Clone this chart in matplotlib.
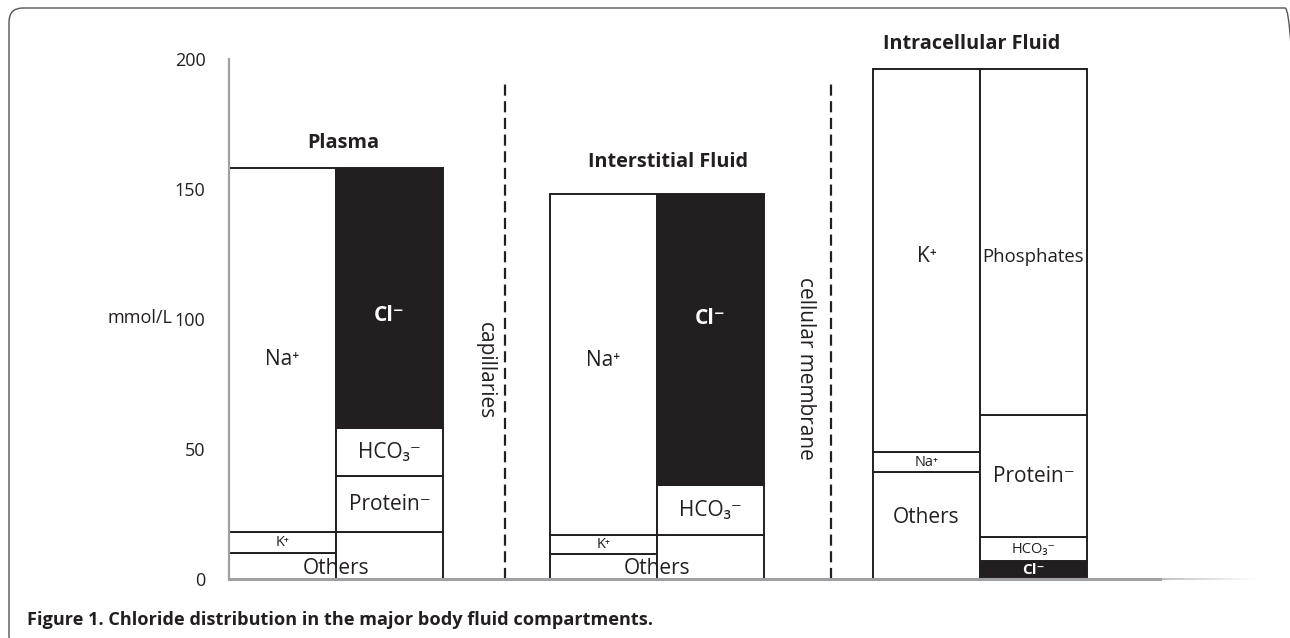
import matplotlib.pyplot as plt
import numpy as np
from matplotlib.collections import LineCollection
from matplotlib.patches import FancyBboxPatch
from matplotlib.transforms import IdentityTransform

plt.rcParams['font.family'] = ['Open Sans', 'DejaVu Sans']

# datos (mmol/L), de abajo hacia arriba
compartimentos = ['Plasma', 'Interstitial Fluid', 'Intracellular Fluid']

plasma_cat_ion = ['Others', 'K⁺', 'Na⁺']
plasma_cat_val = [10, 8, 140]
plasma_an_ion = ['Others', 'Protein⁻', 'HCO₃⁻', 'Cl⁻']
plasma_an_val = [18, 21.5, 18.5, 100]

inter_cat_ion = ['Others', 'K⁺', 'Na⁺']
inter_cat_val = [9.5, 7.5, 131]
inter_an_ion = ['Others', 'HCO₃⁻', 'Cl⁻']
inter_an_val = [17, 19, 112]

intra_cat_ion = ['Others', 'Na⁺', 'K⁺']
intra_cat_val = [41, 8, 147]
intra_an_ion = ['Cl⁻', 'HCO₃⁻', 'Protein⁻', 'Phosphates']
intra_an_val = [7, 9, 47, 133]

membranas = ['capillaries', 'cellular membrane']

ticks_y = [0, 50, 100, 150, 200]

# layout
color_txt = '#231f20'
W, H = 1290, 638
fig = plt.figure(figsize=(W / 100, H / 100), dpi=100)
ax = fig.add_axes([229 / W, (H - 579) / H, 931 / W, 520 / H])
ax.set_xlim(0, 931)
ax.set_ylim(0, 200)

izq = [0, 321, 644]
ancho = 107
membrana_x = [276, 602]

columnas = [
    (plasma_cat_ion, plasma_cat_val, plasma_an_ion, plasma_an_val),
    (inter_cat_ion, inter_cat_val, inter_an_ion, inter_an_val),
    (intra_cat_ion, intra_cat_val, intra_an_ion, intra_an_val),
]

# ajustes de posicion de etiquetas (x, y) en unidades del eje
pos_especial = {
    (0, 0, 'Others'): (107, 4.2),
    (1, 0, 'Others'): (107, 4.2),
    (0, 0, 'Na⁺'): (None, 84.6),
    (0, 1, 'Cl⁻'): (None, 101.5),
    (1, 0, 'Na⁺'): (None, 84),
    (1, 1, 'Cl⁻'): (None, 100),
    (2, 0, 'K⁺'): (None, 124),
    (2, 1, 'Phosphates'): (None, 124),
    (2, 0, 'Others'): (None, 23.5),
}
sin_etiqueta = [(0, 1, 'Others'), (1, 1, 'Others')]
tamanos = {(0, 0, 'K⁺'): 10.5, (1, 0, 'K⁺'): 10.5, (2, 0, 'Na⁺'): 10.5,
           (2, 1, 'HCO₃⁻'): 10.5, (2, 1, 'Cl⁻'): 11, (2, 1, 'Phosphates'): 13.3}

for i, (cion, cval, aion, aval) in enumerate(columnas):
    for j, (iones, vals) in enumerate([(cion, cval), (aion, aval)]):
        x0 = izq[i] + j * ancho
        base = 0
        for ion, v in zip(iones, vals):
            negro = ion == 'Cl⁻'
            ax.bar(x0, v, width=ancho, bottom=base, align='edge',
                   color=color_txt if negro else 'white',
                   edgecolor=color_txt, linewidth=1.4, zorder=1)
            if (i, j, ion) not in sin_etiqueta:
                xt = x0 + ancho / 2
                yt = base + v / 2
                if (i, j, ion) in pos_especial:
                    px, py = pos_especial[(i, j, ion)]
                    xt = izq[i] + px if px is not None else xt
                    yt = py
                ax.text(xt, yt, ion, ha='center', va='center',
                        fontsize=tamanos.get((i, j, ion), 15),
                        color='white' if negro else color_txt,
                        fontweight='bold' if negro else 'normal', zorder=3)
            base += v

# titulos de compartimentos
tit_pos = [(114, 167.5), (439, 160.2), (743, 205.8)]
for nombre, (tx, ty) in zip(compartimentos, tit_pos):
    ax.text(tx, ty, nombre, ha='center', va='center', fontsize=14.3,
            fontweight='bold', color=color_txt, clip_on=False)

# membranas
for m, mx in zip(membranas, membrana_x):
    ax.vlines(mx, 0, 191, colors=color_txt, linestyles=(0, (5, 2.5)),
              linewidth=1.6, zorder=2)
txt_pos = [(256, 80), (576, 81)]
for m, (mx, my) in zip(membranas, txt_pos):
    ax.text(mx, my, m, rotation=270, ha='center', va='center',
            fontsize=15, color=color_txt)

# ejes
for s in ['top', 'right']:
    ax.spines[s].set_visible(False)
ax.spines['left'].set_color('#a0a0a4')
ax.spines['left'].set_linewidth(1.6)
ax.spines['bottom'].set_color('#a0a0a4')
ax.spines['bottom'].set_linewidth(2.2)
ax.set_xticks([])
ax.set_yticks(ticks_y)
ax.set_yticklabels([str(t) for t in ticks_y])
ax.tick_params(axis='y', length=0, pad=17, labelsize=13, labelcolor=color_txt)
ax.set_ylabel('mmol/L', rotation=0, fontsize=13, color=color_txt)
ax.yaxis.set_label_coords(-89 / 931, 0.485)

# desvanecimiento del eje x
xs = np.linspace(931, 1030, 40)
segs = [[(xs[k], 0), (xs[k + 1], 0)] for k in range(len(xs) - 1)]
alfas = np.linspace(0.8, 0.0, len(segs))
lc = LineCollection(segs, colors=[(0.63, 0.63, 0.64, a) for a in alfas],
                    linewidths=1.2, clip_on=False, transform=ax.transData)
ax.add_collection(lc)

# marco y pie de figura
marco = FancyBboxPatch((9, -12), 1290, 642,
                       boxstyle='round,pad=0,rounding_size=14',
                       transform=IdentityTransform(), fill=False,
                       edgecolor='#555555', linewidth=1.0, clip_on=False)
fig.patches.append(marco)
fig.text(27 / W, 1 - 620 / H,
         'Figure 1. Chloride distribution in the major body fluid compartments.',
         fontsize=13.1, fontweight='bold', color=color_txt, va='center')

fig.savefig('out.png', dpi=100)
